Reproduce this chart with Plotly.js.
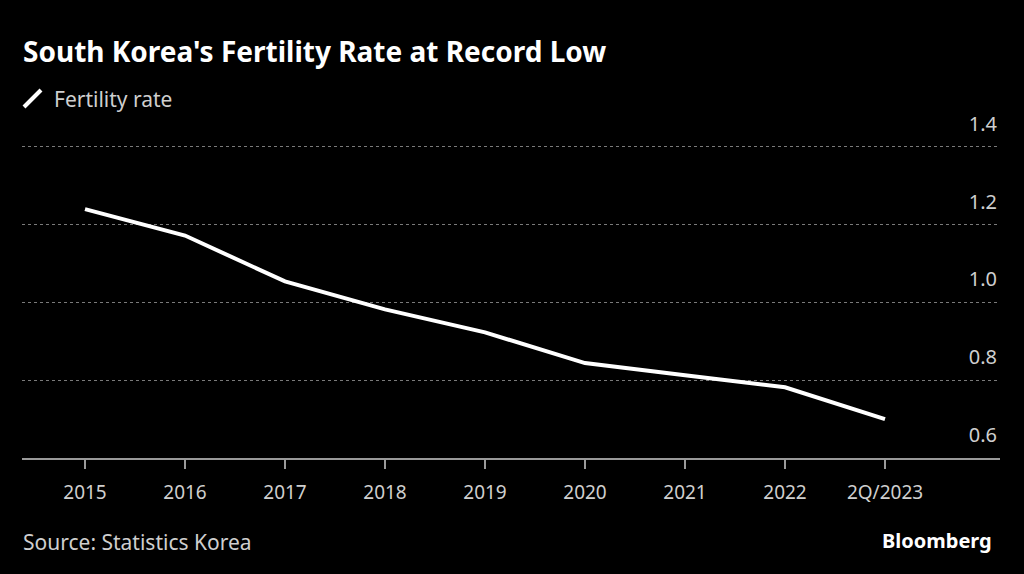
<!DOCTYPE html>
<html><head><meta charset="utf-8">
<script src="https://cdn.plot.ly/plotly-3.0.1.min.js"></script>
<style>html,body{margin:0;padding:0;background:#000;}#chart{width:1024px;height:574px;}</style>
</head><body><div id="chart"></div>
<script>
var categories = ["2015","2016","2017","2018","2019","2020","2021","2022","2Q/2023"];
var fertilityRate = [1.24, 1.172, 1.054, 0.982, 0.923, 0.844, 0.813, 0.782, 0.70];
var yTicks = [0.6, 0.8, 1.0, 1.2, 1.4];
var yTickText = ["0.6", "0.8", "1.0", "1.2", "1.4"];

var W = 1024, H = 574;
var mL = 22, mR = 24, mT = 95, mB = 116;
function px(x){return (x - mL)/(W - mL - mR);}
function py(y){return (H - mB - y)/(H - mT - mB);}

var font = "'Source Sans Pro','Noto Sans','Open Sans',sans-serif";

var trace = {
  x: categories, y: fertilityRate, type: 'scatter', mode: 'lines',
  line: {color: '#ffffff', width: 4}, hoverinfo: 'skip', showlegend: false
};

var layout = {
  width: W, height: H,
  paper_bgcolor: '#000', plot_bgcolor: '#000',
  margin: {l: mL, r: mR, t: mT, b: mB, pad: 0},
  font: {family: font, color: '#cfcfcf', size: 18},
  xaxis: {
    type: 'category', range: [-0.63, 9.15],
    showgrid: false, zeroline: false,
    showline: true, linecolor: '#9a9a9a', linewidth: 1.5,
    ticks: 'outside', ticklen: 9, tickcolor: '#9a9a9a', tickwidth: 1.5,
    ticklabelstandoff: 8,
    tickfont: {family: font, size: 19, color: '#cfcfcf'},
    fixedrange: true
  },
  yaxis: {
    range: [0.6, 1.4 + 52/390], side: 'right',
    tickvals: yTicks, ticktext: yTickText,
    ticklabelposition: 'inside top',
    ticklabelshift: -9,
    showgrid: true, gridcolor: '#7a7a7a', griddash: 'dot', gridwidth: 1,
    zeroline: false, showline: false, ticks: '',
    tickfont: {family: font, size: 20, color: '#cfcfcf'},
    fixedrange: true
  },
  shapes: [
    {type: 'line', xref: 'paper', yref: 'paper',
     x0: px(24), y0: py(107), x1: px(41), y1: py(90),
     line: {color: '#ffffff', width: 4}}
  ],
  annotations: [
    {xref: 'paper', yref: 'paper', x: px(21), y: py(51), xanchor: 'left', yanchor: 'middle',
     text: "<b>South Korea's Fertility Rate at Record Low</b>", showarrow: false,
     font: {family: font, size: 28, color: '#ffffff'}},
    {xref: 'paper', yref: 'paper', x: px(52), y: py(99), xanchor: 'left', yanchor: 'middle',
     text: "Fertility rate", showarrow: false,
     font: {family: font, size: 21, color: '#cfcfcf'}},
    {xref: 'paper', yref: 'paper', x: px(21), y: py(542), xanchor: 'left', yanchor: 'middle',
     text: "Source: Statistics Korea", showarrow: false,
     font: {family: font, size: 21, color: '#cfcfcf'}},
    {xref: 'paper', yref: 'paper', x: px(994), y: py(540), xanchor: 'right', yanchor: 'middle',
     text: "<b>Bloomberg</b>", showarrow: false,
     font: {family: font, size: 20, color: '#ffffff'}}
  ]
};

Plotly.newPlot('chart', [trace], layout, {displayModeBar: false, staticPlot: true});
</script></body></html>
